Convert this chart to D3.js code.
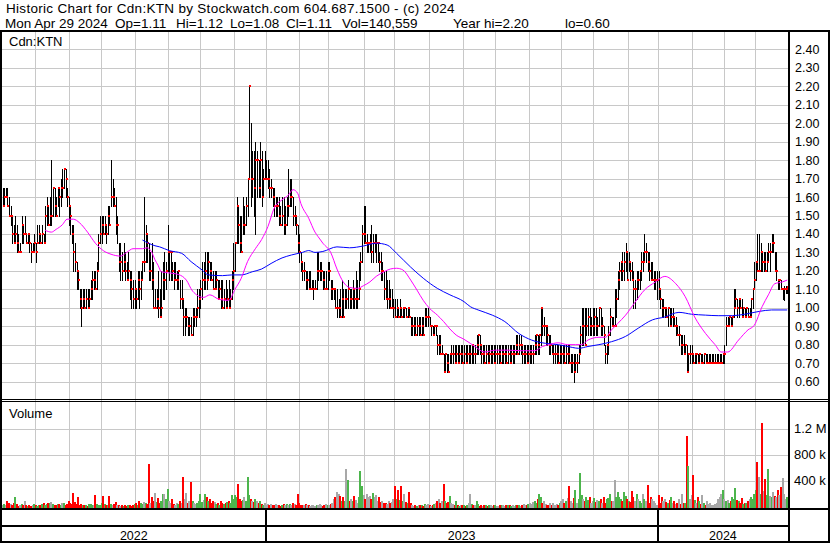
<!DOCTYPE html>
<html>
<head>
<meta charset="utf-8">
<script src="https://cdn.jsdelivr.net/npm/d3@7/dist/d3.min.js"></script>
<style>
  body { margin: 0; background: #fff; }
  svg { display: block; font-family: Arial, "Liberation Sans", sans-serif; }
</style>
</head>
<body>
<div id="viz"></div>
<script>
// ---- data ----
const firstDay = "2022-05-02";
const lastDay = "2024-04-29";
// TSX holidays inside the range (no trading)
const holidays = ["2022-05-23","2022-07-01","2022-08-01","2022-09-05","2022-10-10","2022-12-26","2022-12-27",
  "2023-01-02","2023-02-20","2023-04-07","2023-05-22","2023-07-03","2023-08-07","2023-09-04","2023-10-09","2023-12-25","2023-12-26",
  "2024-01-01","2024-02-19","2024-03-29"];

const highs = [
1.65,1.65,1.65,1.65,1.60,1.55,1.50,1.45,1.50,1.45, 1.40,1.35,1.50,1.45,1.50,1.40,1.40,1.40,1.35,1.35,
1.40,1.35,1.45,1.45,1.40,1.45,1.40,1.55,1.60,1.55, 1.60,1.80,1.65,1.65,1.60,1.65,1.65,1.70,1.75,1.75,
1.75,1.65,1.60,1.55,1.45,1.45,1.35,1.25,1.20,1.10, 1.10,1.10,1.10,1.10,1.10,1.10,1.15,1.20,1.20,1.20,
1.25,1.40,1.50,1.50,1.50,1.50,1.45,1.55,1.55,1.80, 1.70,1.65,1.60,1.50,1.35,1.35,1.30,1.35,1.30,1.25,
1.30,1.20,1.20,1.15,1.15,1.10,1.20,1.20,1.20,1.25, 1.60,1.45,1.40,1.35,1.30,1.35,1.25,1.10,1.10,1.20,
1.10,1.20,1.25,1.30,1.25,1.45,1.30,1.30,1.25,1.25, 1.25,1.20,1.20,1.15,1.15,1.05,1.00,1.00,0.95,0.95,
0.95,1.00,1.00,1.00,1.10,1.10,1.15,1.25,1.25,1.30, 1.30,1.30,1.25,1.25,1.20,1.20,1.20,1.15,1.15,1.15,
1.15,1.10,1.15,1.10,1.15,1.10,1.20,1.35,1.35,1.60, 1.55,1.50,1.50,1.60,1.55,1.60,1.70,2.20,2.00,1.85,
1.85,1.90,1.85,1.80,1.90,1.85,1.75,1.85,1.80,1.80, 1.75,1.70,1.65,1.65,1.60,1.60,1.60,1.55,1.60,1.60,
1.55,1.60,1.75,1.70,1.70,1.60,1.55,1.50,1.45,1.40, 1.30,1.25,1.25,1.20,1.20,1.20,1.20,1.15,1.15,1.15,
1.30,1.30,1.25,1.25,1.20,1.20,1.20,1.25,1.25,1.15, 1.15,1.10,1.10,1.10,1.05,1.10,1.15,1.10,1.10,1.10,
1.15,1.10,1.10,1.15,1.10,1.20,1.15,1.25,1.30,1.45, 1.55,1.55,1.40,1.35,1.40,1.45,1.40,1.40,1.40,1.35,
1.30,1.30,1.25,1.20,1.20,1.15,1.15,1.10,1.10,1.05, 1.05,1.05,1.00,1.05,1.00,1.00,1.00,1.00,1.00,1.00,
0.95,0.95,0.95,0.95,0.95,0.95,0.95,0.95,0.95,1.00, 1.00,1.00,0.95,0.90,0.90,0.90,0.90,0.85,0.85,0.85,
0.80,0.75,0.75,0.75,0.75,0.75,0.80,0.80,0.80,0.80, 0.80,0.80,0.80,0.80,0.80,0.80,0.80,0.80,0.80,0.80,
0.80,0.80,0.85,0.85,0.85,0.80,0.80,0.80,0.80,0.80, 0.80,0.80,0.80,0.80,0.80,0.80,0.80,0.80,0.80,0.80,
0.80,0.80,0.80,0.80,0.80,0.80,0.80,0.85,0.85,0.85, 0.85,0.80,0.80,0.80,0.80,0.80,0.80,0.80,0.80,0.85,
0.85,0.85,0.85,1.00,1.00,0.95,0.90,0.90,0.85,0.85, 0.80,0.80,0.80,0.80,0.80,0.80,0.80,0.80,0.80,0.80,
0.80,0.80,0.75,0.75,0.75,0.75,0.75,0.80,0.90,1.00, 1.00,1.00,1.00,1.00,1.00,0.95,1.00,1.00,1.00,0.95,
1.00,1.00,0.95,0.90,0.80,0.80,0.90,1.00,0.95,0.95, 1.10,1.10,1.20,1.25,1.25,1.30,1.30,1.35,1.30,1.30,
1.25,1.25,1.20,1.15,1.20,1.20,1.20,1.30,1.30,1.40, 1.35,1.30,1.30,1.25,1.25,1.20,1.20,1.20,1.20,1.10,
1.05,1.05,1.00,1.00,1.00,1.00,1.00,1.00,0.95,0.95, 0.90,0.90,0.85,0.85,0.85,0.80,0.80,0.75,0.80,0.80,
0.75,0.75,0.75,0.75,0.75,0.75,0.75,0.75,0.75,0.75, 0.75,0.75,0.75,0.75,0.75,0.75,0.75,0.75,0.75,0.75,
0.80,0.95,0.95,0.95,0.95,0.95,1.10,1.10,1.05,1.05, 1.05,1.05,1.00,1.00,1.00,1.00,1.00,1.05,1.10,1.25,
1.25,1.40,1.40,1.35,1.30,1.30,1.30,1.30,1.35,1.35, 1.40,1.40,1.30,1.30,1.15,1.15,1.15,1.10,1.12,1.12,
1.12];

const lows = [
1.55,1.55,1.60,1.55,1.50,1.45,1.35,1.35,1.35,1.30, 1.30,1.30,1.35,1.35,1.40,1.35,1.35,1.30,1.25,1.30,
1.30,1.25,1.35,1.35,1.35,1.35,1.35,1.35,1.45,1.45, 1.45,1.45,1.50,1.50,1.50,1.55,1.50,1.55,1.60,1.65,
1.60,1.55,1.45,1.40,1.35,1.20,1.20,1.10,1.10,1.00, 0.90,1.00,1.00,1.00,1.00,1.00,1.05,1.05,1.10,1.10,
1.10,1.20,1.35,1.35,1.40,1.40,1.35,1.40,1.45,1.55, 1.55,1.55,1.40,1.35,1.20,1.15,1.15,1.20,1.15,1.15,
1.15,1.05,1.00,1.00,1.00,1.00,1.05,1.00,1.05,1.15, 1.20,1.25,1.25,1.15,1.15,1.10,1.00,1.00,1.00,0.95,
0.95,0.95,1.05,1.05,1.10,1.20,1.15,1.15,1.15,1.10, 1.15,1.10,1.10,1.00,1.00,0.85,0.85,0.90,0.85,0.85,
0.85,0.85,0.90,0.90,0.95,0.95,1.00,1.05,1.10,1.10, 1.10,1.15,1.15,1.15,1.10,1.10,1.10,1.05,1.05,1.00,
1.00,1.00,1.00,1.00,1.00,1.00,1.05,1.10,1.20,1.35, 1.35,1.30,1.30,1.40,1.40,1.45,1.50,1.70,1.55,1.60,
1.50,1.40,1.60,1.60,1.60,1.55,1.60,1.70,1.70,1.65, 1.60,1.60,1.55,1.50,1.50,1.50,1.45,1.45,1.45,1.40,
1.40,1.45,1.50,1.55,1.55,1.45,1.45,1.40,1.30,1.25, 1.20,1.15,1.15,1.10,1.10,1.10,1.10,1.10,1.05,1.10,
1.10,1.15,1.15,1.15,1.10,1.10,1.10,1.10,1.15,1.05, 1.05,1.05,1.00,0.95,0.95,0.95,0.95,0.95,1.00,1.00,
1.00,1.00,1.00,1.00,1.00,1.00,1.00,1.05,1.15,1.25, 1.35,1.35,1.30,1.30,1.30,1.25,1.25,1.30,1.25,1.25,
1.20,1.15,1.15,1.05,1.05,1.00,1.00,1.00,1.00,0.95, 0.95,0.95,0.95,0.95,0.95,0.95,0.95,0.95,0.95,0.95,
0.85,0.85,0.85,0.85,0.85,0.85,0.85,0.85,0.85,0.90, 0.90,0.90,0.90,0.85,0.85,0.85,0.85,0.75,0.75,0.75,
0.75,0.65,0.65,0.65,0.65,0.70,0.70,0.70,0.70,0.70, 0.70,0.70,0.70,0.70,0.70,0.70,0.70,0.70,0.70,0.70,
0.70,0.70,0.75,0.75,0.75,0.70,0.70,0.70,0.70,0.70, 0.70,0.70,0.70,0.70,0.70,0.70,0.70,0.70,0.70,0.70,
0.70,0.70,0.70,0.70,0.70,0.70,0.70,0.75,0.75,0.75, 0.75,0.70,0.70,0.70,0.70,0.70,0.70,0.70,0.70,0.75,
0.75,0.75,0.75,0.80,0.85,0.85,0.80,0.80,0.75,0.75, 0.75,0.70,0.70,0.70,0.70,0.70,0.70,0.70,0.70,0.70,
0.70,0.70,0.65,0.65,0.60,0.65,0.65,0.70,0.75,0.80, 0.80,0.80,0.85,0.85,0.85,0.85,0.85,0.85,0.85,0.85,
0.90,0.85,0.85,0.80,0.70,0.70,0.75,0.85,0.90,0.90, 0.90,0.95,1.05,1.10,1.15,1.15,1.15,1.20,1.15,1.20,
1.15,1.15,1.00,1.00,1.05,1.10,1.10,1.15,1.20,1.25, 1.25,1.20,1.15,1.15,1.15,1.10,1.10,1.05,1.05,1.00,
0.95,0.95,0.95,0.95,0.90,0.90,0.90,0.90,0.90,0.85, 0.85,0.80,0.75,0.75,0.75,0.75,0.65,0.65,0.70,0.70,
0.70,0.70,0.70,0.70,0.70,0.70,0.70,0.70,0.70,0.70, 0.70,0.70,0.70,0.70,0.70,0.70,0.70,0.70,0.70,0.70,
0.70,0.80,0.90,0.90,0.90,0.90,0.95,1.00,0.95,0.95, 1.00,0.95,0.95,0.95,0.95,0.95,0.95,0.95,1.00,1.10,
1.15,1.20,1.20,1.20,1.20,1.20,1.20,1.20,1.25,1.20, 1.30,1.30,1.20,1.15,1.10,1.10,1.10,1.05,1.04,1.08,
1.08];

const closes = [
1.55,1.60,1.60,1.55,1.50,1.50,1.40,1.35,1.40,1.35, 1.30,1.30,1.45,1.40,1.40,1.35,1.40,1.35,1.30,1.30,
1.35,1.30,1.35,1.40,1.35,1.40,1.35,1.50,1.55,1.45, 1.50,1.50,1.65,1.55,1.50,1.65,1.60,1.65,1.65,1.75,
1.70,1.60,1.55,1.50,1.40,1.30,1.25,1.20,1.15,1.05, 1.00,1.05,1.00,1.05,1.00,1.05,1.10,1.15,1.15,1.10,
1.20,1.35,1.40,1.45,1.40,1.45,1.40,1.50,1.45,1.60, 1.60,1.55,1.45,1.45,1.25,1.25,1.20,1.25,1.20,1.15,
1.20,1.15,1.10,1.05,1.10,1.05,1.15,1.10,1.15,1.25, 1.25,1.40,1.35,1.20,1.20,1.15,1.00,1.00,1.05,1.00,
0.95,1.00,1.15,1.15,1.20,1.30,1.30,1.30,1.20,1.15, 1.15,1.15,1.20,1.05,1.05,0.95,0.95,0.95,0.90,0.90,
0.85,0.95,0.95,0.95,1.00,1.05,1.10,1.15,1.15,1.20, 1.15,1.25,1.20,1.15,1.10,1.10,1.15,1.05,1.10,1.05,
1.00,1.05,1.00,1.05,1.00,1.05,1.15,1.20,1.35,1.55, 1.45,1.35,1.30,1.45,1.45,1.55,1.70,2.20,1.70,1.70,
1.65,1.80,1.80,1.65,1.80,1.60,1.70,1.70,1.70,1.70, 1.65,1.65,1.60,1.55,1.55,1.55,1.50,1.45,1.50,1.45,
1.45,1.55,1.55,1.60,1.60,1.50,1.50,1.45,1.35,1.30, 1.25,1.20,1.20,1.15,1.15,1.10,1.10,1.10,1.10,1.10,
1.20,1.20,1.20,1.20,1.15,1.10,1.10,1.20,1.20,1.10, 1.10,1.10,1.00,1.00,1.00,0.95,1.05,0.95,1.05,1.05,
1.10,1.05,1.05,1.10,1.05,1.05,1.05,1.10,1.25,1.40, 1.40,1.35,1.35,1.35,1.35,1.30,1.35,1.35,1.35,1.35,
1.25,1.20,1.20,1.10,1.05,1.05,1.05,1.00,1.00,1.00, 0.95,1.00,0.95,1.00,0.95,1.00,1.00,0.95,1.00,0.95,
0.90,0.90,0.90,0.85,0.90,0.90,0.85,0.90,0.85,0.95, 0.95,0.95,0.90,0.90,0.85,0.90,0.90,0.80,0.80,0.75,
0.75,0.65,0.75,0.70,0.65,0.75,0.75,0.75,0.70,0.75, 0.70,0.75,0.75,0.70,0.75,0.70,0.75,0.75,0.75,0.80,
0.75,0.75,0.80,0.85,0.80,0.75,0.75,0.70,0.75,0.70, 0.75,0.75,0.75,0.70,0.75,0.75,0.75,0.70,0.75,0.75,
0.75,0.70,0.75,0.70,0.75,0.75,0.75,0.80,0.75,0.80, 0.80,0.75,0.75,0.75,0.70,0.75,0.75,0.75,0.75,0.80,
0.85,0.80,0.85,1.00,0.90,0.90,0.90,0.85,0.80,0.80, 0.75,0.75,0.75,0.75,0.70,0.75,0.75,0.75,0.70,0.75,
0.75,0.70,0.70,0.70,0.65,0.70,0.70,0.75,0.85,0.90, 0.90,0.80,0.90,0.95,0.90,0.90,0.90,0.95,0.90,0.90,
1.00,0.90,0.90,0.85,0.75,0.80,0.85,0.95,0.90,0.90, 0.90,1.05,1.15,1.20,1.25,1.20,1.25,1.30,1.15,1.25,
1.20,1.15,1.10,1.10,1.15,1.15,1.20,1.25,1.25,1.30, 1.30,1.25,1.20,1.15,1.15,1.15,1.15,1.15,1.10,1.05,
1.00,1.00,1.00,0.95,1.00,0.90,0.95,0.95,0.90,0.90, 0.85,0.85,0.80,0.80,0.75,0.80,0.65,0.75,0.75,0.75,
0.70,0.75,0.75,0.70,0.75,0.70,0.70,0.75,0.70,0.70, 0.70,0.70,0.70,0.70,0.70,0.70,0.70,0.70,0.70,0.75,
0.75,0.90,0.90,0.95,0.90,0.95,1.00,1.05,1.00,1.05, 1.00,0.95,1.00,0.95,1.00,0.95,0.95,1.05,1.10,1.15,
1.25,1.20,1.20,1.30,1.25,1.25,1.20,1.25,1.30,1.30, 1.35,1.35,1.20,1.20,1.15,1.15,1.10,1.10,1.10,1.10,
1.11];

// daily volume, thousands of shares
const volumes = [
30,45,20,90,60,35,25,50,140,40, 15,20,35,25,90,30,10,20,15,25,
40,20,15,30,25,45,60,25,35,50, 60,70,40,25,30,45,35,20,60,55,
30,45,80,60,40,215,70,40,140,30, 45,20,30,25,15,35,40,20,30,170,
45,30,20,60,155,40,25,30,155,35, 20,40,75,30,25,15,20,10,25,15,
30,20,15,25,40,55,30,90,60,45, 70,50,40,660,60,140,90,215,70,130,
60,90,200,200,120,265,80,60,110,40, 30,60,40,90,50,460,120,215,60,80,
370,90,50,40,60,80,185,70,100,185, 140,90,120,60,80,70,40,55,30,80,
60,40,50,70,90,60,180,120,180,150, 340,120,90,100,140,80,450,170,110,90,
70,120,80,60,90,40,30,50,20,35, 25,40,30,20,35,30,20,15,30,40,
25,35,20,45,30,60,40,30,185,50, 30,20,25,45,30,20,15,25,20,10,
30,25,45,20,15,30,40,20,25,35, 60,110,140,230,200,165,90,140,80,570,
415,90,120,80,160,100,60,140,540,310, 180,120,200,140,160,110,210,150,180,90,
140,70,80,50,60,40,90,60,70,110, 310,120,260,100,320,90,200,70,60,230,
60,30,15,20,10,25,30,20,15,40, 20,35,25,15,30,40,60,90,120,60,
80,350,90,50,70,160,60,40,30,90, 20,15,30,25,20,10,30,60,185,40,
20,30,90,40,15,25,10,20,30,15, 20,25,15,30,20,10,15,25,20,30,
15,20,25,30,15,20,10,25,30,20, 15,30,40,20,25,35,60,40,70,90,
60,110,200,150,60,90,40,30,20,60, 30,50,20,40,25,60,90,120,60,80,
130,310,90,60,130,250,60,110,510,180, 120,90,140,100,150,60,90,130,70,100,
80,120,50,150,60,110,130,200,90,80, 415,150,220,140,120,90,230,160,120,90,
70,240,150,90,200,120,80,60,200,110, 90,330,60,140,120,90,60,30,180,60,
150,90,120,70,60,100,140,60,90,40, 60,120,40,200,60,60,1080,620,120,170,
480,100,60,150,80,40,170,60,30,90, 40,60,30,20,40,60,120,140,200,260,
120,80,100,60,90,140,110,280,100,90, 60,130,40,60,50,80,120,150,120,200,
260,690,460,200,1280,240,430,180,580,160, 150,220,160,140,250,180,300,440,200,120,
140.559];

// moving averages read at sample days (trading-day index, price)
const maShortDays = [27,31,34,38,41,45,49,54,59,64,69,75,79,83,89,92,95,97,99,101,105,112,117,121,128,132,138,144,148,152,156,161,165,169,173,178,182,185,188,190,195,199,201,204,209,213,217,221,226,230,234,238,243,247,251,255,260,264,268,272,277,281,285,289,294,298,301,307,314,322,331,339,344,348,354,360,365,369,373,380,384,388,392,397,403,409,416,422,429,435,441,448,454,458,462,469,475,479,484,488,492,497,500];
const maShortVals = [1.42,1.41,1.425,1.45,1.48,1.48,1.46,1.41,1.35,1.31,1.29,1.28,1.30,1.32,1.32,1.325,1.30,1.26,1.23,1.195,1.19,1.18,1.15,1.09,1.056,1.07,1.045,1.04,1.10,1.16,1.25,1.32,1.37,1.44,1.54,1.585,1.61,1.64,1.62,1.565,1.485,1.41,1.385,1.35,1.30,1.21,1.14,1.11,1.105,1.12,1.14,1.17,1.195,1.21,1.214,1.205,1.15,1.096,1.04,0.997,0.96,0.925,0.885,0.852,0.829,0.807,0.79,0.76,0.77,0.77,0.767,0.767,0.79,0.80,0.81,0.80,0.80,0.80,0.825,0.84,0.84,0.88,0.915,0.96,1.03,1.096,1.14,1.17,1.13,1.06,0.95,0.86,0.80,0.76,0.76,0.825,0.88,0.905,1.006,1.07,1.13,1.14,1.15];
const maLongDays = [89,97,100,106,114,120,127,131,140,146,152,159,165,171,178,184,191,195,199,204,213,221,230,238,245,251,260,268,277,285,294,298,303,312,320,329,337,346,354,363,367,373,380,388,397,405,414,422,431,439,448,456,465,473,482,490,500];
const maLongVals = [1.367,1.336,1.33,1.31,1.295,1.25,1.205,1.178,1.174,1.178,1.178,1.195,1.21,1.24,1.27,1.286,1.30,1.31,1.30,1.305,1.33,1.325,1.335,1.35,1.34,1.295,1.22,1.16,1.105,1.07,1.033,1.006,0.988,0.96,0.925,0.86,0.825,0.807,0.80,0.785,0.78,0.79,0.80,0.816,0.845,0.889,0.934,0.95,0.975,0.965,0.96,0.957,0.957,0.965,0.98,0.988,0.988];

const priceTicks = [0.6,0.7,0.8,0.9,1.0,1.1,1.2,1.3,1.4,1.5,1.6,1.7,1.8,1.9,2.0,2.1,2.2,2.3,2.4];
const volumeTicks = [400000, 800000, 1200000];
const volumeTickLabels = ["400 k", "800 k", "1.2 M"];
const titleLine = "Historic Chart for Cdn:KTN by Stockwatch.com 604.687.1500 - (c) 2024";
const quoteItems = ["Mon Apr 29 2024", "Op=1.11", "Hi=1.12", "Lo=1.08", "Cl=1.11", "Vol=140,559", "Year hi=2.20", "lo=0.60"];
const quoteItemX = [5, 115, 176, 230, 286, 342, 453, 565];

// ---- layout ----
const width = 830, height = 543;
const plotLeft = 2, plotRight = 788;
const priceTop = 31, priceBottom = 400;
const volTop = 402.5, volBottom = 506.5;
const gridColor = "#c8c8c8";

const parse = d3.utcParse("%Y-%m-%d");
const fmt = d3.utcFormat("%Y-%m-%d");
const tradingDays = d3.utcDay.range(parse(firstDay), d3.utcDay.offset(parse(lastDay), 1))
  .filter(d => d.getUTCDay() !== 0 && d.getUTCDay() !== 6 && !holidays.includes(fmt(d)));
const N = tradingDays.length;

const x = d3.scaleLinear().domain([0, N]).range([plotLeft, plotRight]);
const xc = i => x(i + 0.5);
const y = d3.scaleLinear().domain([0.5, 2.5]).range([priceBottom, priceTop]);
const yv = d3.scaleLinear().domain([0, 1600000]).range([volBottom, volTop]);

// first trading day of each month
const monthStarts = d3.range(1, N).filter(i => tradingDays[i].getUTCMonth() !== tradingDays[i - 1].getUTCMonth());
const yearStarts = monthStarts.filter(i => tradingDays[i].getUTCMonth() === 0);
const yearEdges = [0, ...yearStarts, N];

const svg = d3.select("#viz").append("svg")
  .attr("width", width)
  .attr("height", height);

svg.append("rect").attr("width", width).attr("height", height).attr("fill", "#fff");

// header
svg.append("text")
  .attr("x", 6).attr("y", 12.5)
  .attr("font-size", 13.5)
  .attr("letter-spacing", 0.3)
  .text(titleLine);
svg.append("text")
  .attr("y", 27.5)
  .attr("font-size", 13.5)
  .selectAll("tspan").data(quoteItems).enter().append("tspan")
  .attr("x", (d, i) => quoteItemX[i])
  .text(d => d);

// grid
const grid = svg.append("g").attr("shape-rendering", "crispEdges").attr("stroke", gridColor).attr("stroke-width", 1);
grid.selectAll("line.hp").data(priceTicks).enter().append("line")
  .attr("x1", plotLeft).attr("x2", plotRight)
  .attr("y1", d => Math.round(y(d)) + 0.5).attr("y2", d => Math.round(y(d)) + 0.5);
grid.selectAll("line.hv").data(volumeTicks).enter().append("line")
  .attr("x1", plotLeft).attr("x2", plotRight)
  .attr("y1", d => Math.round(yv(d)) + 0.5).attr("y2", d => Math.round(yv(d)) + 0.5);
grid.selectAll("line.vm").data(monthStarts).enter().append("line")
  .attr("x1", d => Math.round(x(d)) + 0.5).attr("x2", d => Math.round(x(d)) + 0.5)
  .attr("y1", priceTop).attr("y2", volBottom + 2);

// volume bars
const volColor = i => {
  if (i === 0 || closes[i] === closes[i - 1]) return "#a8a8a8";
  return closes[i] > closes[i - 1] ? "#4cb54c" : "#ff0000";
};
svg.append("g").attr("shape-rendering", "crispEdges")
  .selectAll("rect").data(volumes).enter().append("rect")
  .attr("x", (d, i) => Math.round(xc(i)) - 1)
  .attr("width", 2)
  .attr("y", d => yv(d * 1000))
  .attr("height", d => volBottom + 2 - yv(d * 1000))
  .attr("fill", (d, i) => volColor(i));

// price bars
const bars = svg.append("g").attr("shape-rendering", "crispEdges");
bars.selectAll("line").data(highs).enter().append("line")
  .attr("x1", (d, i) => Math.round(xc(i)) + 0.5)
  .attr("x2", (d, i) => Math.round(xc(i)) + 0.5)
  .attr("y1", d => Math.round(y(d)))
  .attr("y2", (d, i) => Math.round(y(lows[i])) + 1)
  .attr("stroke", "#000").attr("stroke-width", 1);
bars.selectAll("rect").data(closes).enter().append("rect")
  .attr("x", (d, i) => Math.round(xc(i)))
  .attr("y", d => Math.round(y(d)) - 1)
  .attr("width", 2).attr("height", 2)
  .attr("fill", "#ff0000");

// moving averages
const maLine = d3.line().x(d => xc(d[0])).y(d => y(d[1])).curve(d3.curveMonotoneX);
svg.append("path")
  .attr("d", maLine(maLongDays.map((d, i) => [d, maLongVals[i]])))
  .attr("fill", "none").attr("stroke", "#0000ff").attr("stroke-width", 1);
svg.append("path")
  .attr("d", maLine(maShortDays.map((d, i) => [d, maShortVals[i]])))
  .attr("fill", "none").attr("stroke", "#ff00ff").attr("stroke-width", 1);

// panel labels
svg.append("text").attr("x", 9).attr("y", 46).attr("font-size", 13).text("Cdn:KTN");
svg.append("text").attr("x", 9).attr("y", 418).attr("font-size", 13).text("Volume");

// right axis labels
svg.append("rect").attr("x", plotRight).attr("y", priceTop).attr("width", width - plotRight).attr("height", 478).attr("fill", "#fff");
svg.selectAll("text.pt").data(priceTicks).enter().append("text")
  .attr("x", 795).attr("y", d => y(d) + 4.5)
  .attr("font-size", 12.5)
  .text(d => d3.format(".2f")(d));
svg.selectAll("text.vt").data(volumeTicks).enter().append("text")
  .attr("x", 794).attr("y", d => yv(d) + 4.5)
  .attr("font-size", 13)
  .text((d, i) => volumeTickLabels[i]);

// year row
svg.selectAll("text.yr").data(d3.range(yearEdges.length - 1)).enter().append("text")
  .attr("x", i => (x(yearEdges[i]) + x(yearEdges[i + 1])) / 2)
  .attr("y", 540)
  .attr("text-anchor", "middle")
  .attr("font-size", 12.5)
  .text(i => d3.utcFormat("%Y")(tradingDays[yearEdges[i]]));

// frame
const frame = svg.append("g").attr("fill", "#000").attr("shape-rendering", "crispEdges");
frame.append("rect").attr("x", 0).attr("y", 30).attr("width", width).attr("height", 2);
frame.append("rect").attr("x", 0).attr("y", 30).attr("width", 2).attr("height", height - 30);
frame.append("rect").attr("x", plotRight).attr("y", 30).attr("width", 2).attr("height", height - 30);
frame.append("rect").attr("x", width - 2).attr("y", 30).attr("width", 2).attr("height", height - 30);
frame.append("rect").attr("x", 0).attr("y", 399).attr("width", width).attr("height", 1);
frame.append("rect").attr("x", 0).attr("y", 401).attr("width", width).attr("height", 1);
frame.append("rect").attr("x", 0).attr("y", 508).attr("width", width).attr("height", 2);
frame.append("rect").attr("x", 0).attr("y", 525).attr("width", plotRight + 2).attr("height", 2);
frame.append("rect").attr("x", 0).attr("y", height - 2).attr("width", width).attr("height", 2);
frame.selectAll("rect.ys").data(yearStarts).enter().append("rect")
  .attr("x", d => Math.round(x(d)) - 1).attr("y", 508).attr("width", 2).attr("height", height - 508);
</script>
</body>
</html>
